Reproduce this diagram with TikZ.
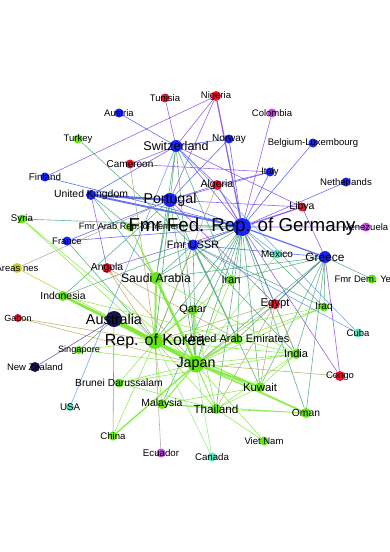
\documentclass[tikz,border=0pt]{standalone}
\usepackage{fontspec}
\setmainfont{Liberation Sans}
\usepackage{tikz}
\usetikzlibrary{backgrounds}
\definecolor{cBlue}{RGB}{25,35,245}
\definecolor{cRed}{RGB}{240,20,50}
\definecolor{cGreen}{RGB}{100,230,20}
\definecolor{cPurple}{RGB}{190,70,225}
\definecolor{cCyan}{RGB}{80,230,190}
\definecolor{cOlive}{RGB}{205,205,40}
\definecolor{cNavy}{RGB}{25,20,75}
\definecolor{lnBB}{RGB}{70,85,245}
\definecolor{lnBR}{RGB}{135,70,230}
\definecolor{lnBG}{RGB}{70,165,120}
\definecolor{lnRG}{RGB}{185,165,100}
\definecolor{lnGG}{RGB}{125,235,55}
\definecolor{lnBC}{RGB}{95,150,240}
\definecolor{lnGC}{RGB}{140,230,130}
\definecolor{lnNG}{RGB}{110,150,90}
\definecolor{lnNv}{RGB}{90,75,160}
\definecolor{lnGy}{RGB}{170,165,150}
\tikzset{
  ctrdot/.style = {circle,inner sep=0pt,draw=none},
  lnk/.style    = {line width=0.6pt,opacity=0.85},
  eBB/.style    = {lnk,draw=lnBB},
  eBR/.style    = {lnk,draw=lnBR},
  eBG/.style    = {lnk,draw=lnBG},
  eRG/.style    = {lnk,draw=lnRG},
  eGG/.style    = {lnk,draw=lnGG},
  eBC/.style    = {lnk,draw=lnBC},
  eGC/.style    = {lnk,draw=lnGC},
  eNG/.style    = {lnk,draw=lnNG},
  eNv/.style    = {lnk,draw=lnNv},
  eGy/.style    = {lnk,draw=lnGy}
}
% country: name, x, y, colour, diameter, font size, label
\newcommand{\ctry}[7]{%
  \node[ctrdot,fill=#4,minimum size=#5pt,
        label={[font=\fontsize{#6}{#6}\selectfont]center:#7}] (#1) at (#2,#3) {};
}

\begin{document}
\begin{tikzpicture}[x=1pt,y=-1pt]
  \useasboundingbox (0,0) rectangle (390,552);
  % countries
  \ctry{tun}{165}{98}{cRed}{9}{9.5}{Tunisia}
  \ctry{nga}{216}{96}{cRed}{10}{9.5}{Nigeria}
  \ctry{aut}{119}{113}{cBlue}{9}{9.5}{Austria}
  \ctry{col}{272}{113}{cPurple}{9}{9.5}{Colombia}
  \ctry{tur}{78}{139}{cGreen}{9}{9.5}{Turkey}
  \ctry{nor}{229}{139}{cBlue}{9}{10}{Norway}
  \ctry{blx}{313}{143}{cBlue}{9}{9.5}{Belgium-Luxembourg}
  \ctry{che}{176}{146}{cBlue}{12}{12.6}{Switzerland}
  \ctry{cmr}{130}{164}{cRed}{9}{10}{Cameroon}
  \ctry{ita}{270}{172}{cBlue}{9}{9.5}{Italy}
  \ctry{fin}{45}{177}{cBlue}{9}{9.8}{Finland}
  \ctry{nld}{346}{182}{cBlue}{9}{9.6}{Netherlands}
  \ctry{dza}{217}{185}{cRed}{10}{10.5}{Algeria}
  \ctry{gbr}{91}{195}{cBlue}{10}{10.4}{United Kingdom}
  \ctry{prt}{170}{200}{cBlue}{14}{14.2}{Portugal}
  \ctry{lby}{302}{207}{cRed}{9}{10.5}{Libya}
  \ctry{syr}{22}{219}{cGreen}{9}{9.7}{Syria}
  \ctry{yar}{130}{227}{cGreen}{9}{9.2}{Fmr Arab Rep. of Yemen}
  \ctry{deu}{242}{227}{cBlue}{18}{18.7}{Fmr Fed. Rep. of Germany}
  \ctry{ven}{366}{227}{cPurple}{9}{9.5}{Venezuela}
  \ctry{fra}{67}{241}{cBlue}{9}{9.5}{France}
  \ctry{sun}{193}{245}{cBlue}{11}{10.8}{Fmr USSR}
  \ctry{mex}{277}{254}{cCyan}{9}{10}{Mexico}
  \ctry{grc}{325}{257}{cBlue}{12}{11.9}{Greece}
  \ctry{nes}{17}{268}{cOlive}{10}{9.5}{Areas nes}
  \ctry{ago}{107}{268}{cRed}{10}{10.3}{Angola}
  \ctry{sau}{156}{278}{cGreen}{12}{12.2}{Saudi Arabia}
  \ctry{irn}{231}{280}{cGreen}{10}{11}{Iran}
  \ctry{ydr}{372}{279}{cGreen}{9}{9.5}{Fmr Dem. Yemen}
  \ctry{idn}{63}{296}{cGreen}{10}{10.4}{Indonesia}
  \ctry{egy}{275}{304}{cRed}{10}{11.3}{Egypt}
  \ctry{irq}{324}{307}{cGreen}{9}{10}{Iraq}
  \ctry{qat}{193}{310}{cGreen}{10}{10.8}{Qatar}
  \ctry{gab}{18}{318}{cRed}{8}{9}{Gabon}
  \ctry{aus}{114}{319}{cNavy}{16}{14.4}{Australia}
  \ctry{cub}{358}{333}{cCyan}{9}{9.5}{Cuba}
  \ctry{are}{237}{339}{cGreen}{10}{11}{United Arab Emirates}
  \ctry{kor}{155}{341}{cGreen}{16}{16}{Rep. of Korea}
  \ctry{sgp}{79}{350}{cGreen}{8}{9.2}{Singapore}
  \ctry{ind}{296}{354}{cGreen}{10}{11}{India}
  \ctry{jpn}{196}{364}{cGreen}{17}{14.3}{Japan}
  \ctry{nzl}{35}{367}{cNavy}{10}{9.5}{New Zealand}
  \ctry{cog}{340}{376}{cRed}{10}{9.5}{Congo}
  \ctry{brn}{119}{383}{cGreen}{9}{10.3}{Brunei Darussalam}
  \ctry{kwt}{260}{387}{cGreen}{10}{11.3}{Kuwait}
  \ctry{mys}{162}{404}{cGreen}{10}{10.4}{Malaysia}
  \ctry{usa}{70}{407}{cCyan}{8}{9.7}{USA}
  \ctry{tha}{216}{409}{cGreen}{10}{11.7}{Thailand}
  \ctry{omn}{306}{413}{cGreen}{10}{10.3}{Oman}
  \ctry{chn}{113}{436}{cGreen}{9}{9.6}{China}
  \ctry{vnm}{264}{441}{cGreen}{9}{9.5}{Viet Nam}
  \ctry{ecu}{161}{453}{cPurple}{9}{9.7}{Ecuador}
  \ctry{can}{212}{457}{cCyan}{9}{9.7}{Canada}
  % trade links
  \begin{scope}[on background layer]
    \draw[eBB] (gbr) -- (che) (aut) -- (che) (che) -- (deu) (che) -- (nor) (nor) -- (deu)
      (ita) -- (deu) (blx) -- (deu) (nld) -- (deu) (sun) -- (deu) (fin) -- (deu)
      (fra) -- (deu) (fra) -- (prt) (ita) -- (prt) (nor) -- (prt) (grc) -- (sun) (prt) -- (deu);
    \draw[eBB,line width=2.4pt] (gbr) -- (prt);
    \draw[eBB,line width=1.8pt] (gbr) -- (deu);
    \draw[eBB,line width=1.2pt] (grc) -- (deu);
    \draw[eBR] (tun) -- (che) (nga) -- (che) (nga) -- (prt) (nga) -- (fin) (cmr) -- (che)
      (cmr) -- (ita) (dza) -- (che) (dza) -- (prt) (dza) -- (ita) (lby) -- (che) (lby) -- (prt)
      (lby) -- (grc) (egy) -- (grc) (egy) -- (deu) (egy) -- (prt) (cog) -- (deu) (cog) -- (grc)
      (ago) -- (deu) (ago) -- (gbr) (col) -- (deu) (ven) -- (deu);
    \draw[eBR,line width=1.3pt] (nga) -- (deu) (lby) -- (deu);
    \draw[eBR,line width=1pt] (dza) -- (deu);
    \draw[eBG] (deu) -- (sau) (deu) -- (irn) (deu) -- (irq) (deu) -- (qat) (deu) -- (are)
      (deu) -- (kwt) (deu) -- (omn) (deu) -- (ind) (deu) -- (jpn) (deu) -- (kor) (deu) -- (tha)
      (deu) -- (syr) (deu) -- (yar) (deu) -- (idn) (deu) -- (mys)
      (che) -- (sau) (che) -- (jpn) (che) -- (kor) (che) -- (irn)
      (prt) -- (sau) (prt) -- (kor) (prt) -- (jpn) (prt) -- (are) (prt) -- (idn)
      (gbr) -- (yar) (gbr) -- (sau)
      (grc) -- (irq) (grc) -- (kwt) (grc) -- (omn) (grc) -- (ind) (grc) -- (jpn) (grc) -- (ydr)
      (grc) -- (sau) (grc) -- (irn) (grc) -- (are)
      (sun) -- (jpn) (sun) -- (irn) (sun) -- (irq) (sun) -- (ind) (sun) -- (kor) (sun) -- (sau)
      (sun) -- (are) (sun) -- (kwt) (tur) -- (sun) (fra) -- (kor);
    \draw[eRG] (ago) -- (jpn) (ago) -- (kor) (ago) -- (are) (egy) -- (jpn) (egy) -- (kor)
      (egy) -- (ind) (egy) -- (kwt) (egy) -- (tha) (cog) -- (jpn) (gab) -- (kor) (gab) -- (jpn)
      (cmr) -- (kor) (dza) -- (kor);
    \draw[eGG] (kor) -- (omn) (jpn) -- (irn) (kor) -- (irn) (jpn) -- (irq) (kor) -- (irq)
      (jpn) -- (ind) (kor) -- (ind) (kor) -- (mys) (kor) -- (chn) (jpn) -- (brn) (kor) -- (brn)
      (jpn) -- (tha) (kor) -- (tha) (jpn) -- (vnm) (jpn) -- (sgp) (kor) -- (sgp) (brn) -- (tha)
      (brn) -- (ind) (mys) -- (kwt) (tha) -- (omn) (mys) -- (tha) (tha) -- (vnm) (tha) -- (kwt)
      (tha) -- (ind) (kwt) -- (ind) (sau) -- (ind) (syr) -- (kor) (syr) -- (jpn) (yar) -- (sau)
      (yar) -- (jpn) (are) -- (ind) (sau) -- (tha) (irq) -- (are) (qat) -- (tha) (mys) -- (omn)
      (idn) -- (are);
    \draw[eGG,line width=3pt] (jpn) -- (kor) (aus) -- (kor);
    \draw[eGG,line width=2.5pt] (sau) -- (jpn) (idn) -- (kor) (jpn) -- (kwt);
    \draw[eGG,line width=2pt] (aus) -- (jpn) (idn) -- (jpn) (sau) -- (kor) (jpn) -- (are);
    \draw[eGG,line width=1.5pt] (kor) -- (are) (jpn) -- (qat) (jpn) -- (omn) (jpn) -- (chn);
    \draw[eGG,line width=1.1pt] (kor) -- (qat) (jpn) -- (mys) (kor) -- (kwt);
    \draw[eNG] (aus) -- (chn) (aus) -- (sgp);
    \draw[eNv] (nzl) -- (aus);
    \draw[eBC] (mex) -- (deu) (cub) -- (che) (cub) -- (sun) (usa) -- (che);
    \draw[eGC] (mex) -- (jpn) (can) -- (jpn) (can) -- (kor);
    \draw[eGy] (ecu) -- (kor) (nes) -- (prt);
    \draw[lnk,draw=cOlive!60!cGreen] (nes) -- (kor);
  \end{scope}
\end{tikzpicture}
\end{document}
